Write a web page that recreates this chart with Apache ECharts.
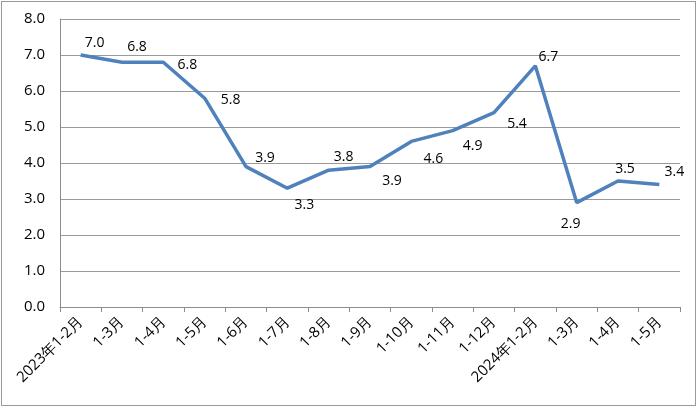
<!DOCTYPE html>
<html><head><meta charset="utf-8">
<script src="https://cdn.jsdelivr.net/npm/echarts@6/dist/echarts.min.js"></script>
<style>html,body{margin:0;padding:0;background:#fff}
#frame{position:absolute;left:1px;top:1px;width:695px;height:405px;border:1px solid #9a9a9a;box-sizing:border-box}
#c{position:absolute;left:0;top:0;width:700px;height:409px}</style>
</head><body><div id="frame"></div><div id="c"></div>
<script>
const categories = ['2023年1-2月','1-3月','1-4月','1-5月','1-6月','1-7月','1-8月','1-9月','1-10月','1-11月','1-12月','2024年1-2月','1-3月','1-4月','1-5月'];
const values = [7.0, 6.8, 6.8, 5.8, 3.9, 3.3, 3.8, 3.9, 4.6, 4.9, 5.4, 6.7, 2.9, 3.5, 3.4];
const yTicks = [0,1,2,3,4,5,6,7,8];
// label offsets (dx, dy) relative to each point, layout only
const labelOffsets = [[14,-12],[15,-15],[24,3],[26,2],[19,-9],[17,17],[15,-13],[22,14],[22,18],[20,15],[23,11],[13,-9],[-6,21],[7,-12],[15,-13]];
const chart = echarts.init(document.getElementById('c'));
const font = 'Open Sans, Liberation Sans, sans-serif';
chart.setOption({
  animation:false,
  grid:{left:60,right:20,top:19,bottom:102},
  xAxis:{type:'category',data:categories,boundaryGap:true,
    axisLine:{lineStyle:{color:'#8c8c8c',width:1}},
    axisTick:{show:true,alignWithLabel:false,length:5,lineStyle:{color:'#8c8c8c'}},
    axisLabel:{rotate:45,interval:0,color:'#000',fontSize:15,fontFamily:font,margin:12}},
  yAxis:{type:'value',min:0,max:8,interval:1,
    axisLine:{show:true,lineStyle:{color:'#8c8c8c'}},
    axisTick:{show:false},
    splitLine:{lineStyle:{color:'#9a9a9a',width:1}},
    axisLabel:{color:'#000',fontSize:15,fontFamily:font,margin:15,formatter:v=>yTicks.includes(v)?v.toFixed(1):''}},
  series:[{type:'line',data:values.map((v,i)=>({value:v,label:{show:true,offset:labelOffsets[i]}})),
    symbol:'circle',symbolSize:1,showSymbol:true,itemStyle:{color:'rgba(79,129,189,0)'},
    lineStyle:{color:'#4f81bd',width:3.5},
    label:{show:true,position:'inside',color:'#000',opacity:1,fontSize:14,fontFamily:font,formatter:p=>Number(p.value).toFixed(1)}}]
});
</script></body></html>
